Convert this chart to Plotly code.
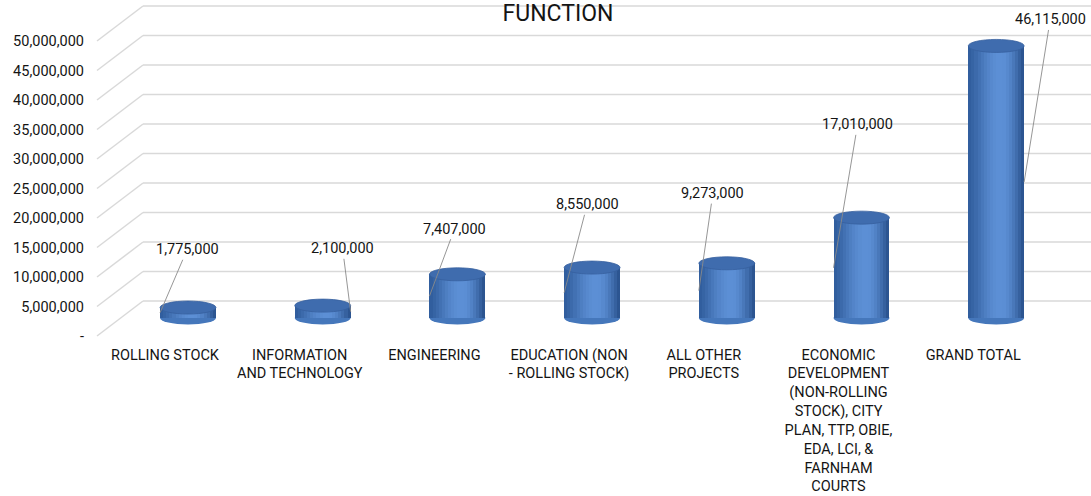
import numpy as np
import plotly.graph_objects as go

# ---- data -------------------------------------------------------------
categories = [
    "ROLLING STOCK",
    "INFORMATION<br>AND TECHNOLOGY",
    "ENGINEERING",
    "EDUCATION (NON<br>- ROLLING STOCK)",
    "ALL OTHER<br>PROJECTS",
    "ECONOMIC<br>DEVELOPMENT<br>(NON-ROLLING<br>STOCK), CITY<br>PLAN, TTP, OBIE,<br>EDA, LCI, &amp;<br>FARNHAM<br>COURTS",
    "GRAND TOTAL",
]
values = [1775000, 2100000, 7407000, 8550000, 9273000, 17010000, 46115000]
tick_values = list(range(0, 50_000_001, 5_000_000))
tick_labels = ["-"] + [f"{v:,}" for v in tick_values[1:]]

# ---- label placement (which side of the cylinder the leader touches, text offset in px)
label_side = [-1, 1, -1, -1, -1, -1, 1]
label_offset = [(27, -63), (-8, -63), (25, -67), (23, -88), (14, -97), (24, -143), (26, -162)]

# ---- page geometry -----------------------------------------------------
W_PX, H_PX = 1091, 496
ZERO_PX = 318          # screen row of value 0 on the bar plane
PX_PER_UNIT = 5.9e-6   # pixels per currency unit
FIRST_PX, STEP_PX = 188, 134.7
FRONT_DY, BACK_DY = -18, 17    # depth offsets of label plane / back wall
FRONT_DX, BACK_DX = -23, 23
WALL_LEFT = 143 / W_PX

BAR_W = 0.415
FONT = "Roboto"
TXT = "#141414"

x_pos = np.arange(len(values))
fig = go.Figure()

# cylinder body: narrow vertical strips with a cylindrical shading profile
edge_l = np.array([48, 93, 156])
peak = np.array([93, 144, 214])
edge_r = np.array([40, 80, 139])
N_STRIPS = 18
for k in range(N_STRIPS):
    t = (k + 0.5) / N_STRIPS
    if t < 0.58:
        w = np.sin(t / 0.58 * np.pi / 2) ** 1.3
        c = edge_l + (peak - edge_l) * w
    else:
        w = np.sin((1 - t) / 0.42 * np.pi / 2) ** 1.1
        c = edge_r + (peak - edge_r) * w
    sw = BAR_W / N_STRIPS
    fig.add_bar(
        x=x_pos, y=values,
        width=sw * (1.25 if k < N_STRIPS - 1 else 1.0),
        offset=-BAR_W / 2 + k * sw,
        marker=dict(color="rgb(%d,%d,%d)" % tuple(c.astype(int)), line=dict(width=0)),
        hoverinfo="skip", showlegend=False,
    )

shapes = []
# back wall gridlines with the receding floor diagonals on the left
for v in tick_values:
    shapes.append(dict(
        type="line", xref="paper", x0=WALL_LEFT, x1=1,
        yref="y", ysizemode="pixel", yanchor=v, y0=BACK_DY, y1=BACK_DY,
        line=dict(color="#d9d9d9", width=1.5), layer="below"))
    shapes.append(dict(
        type="line", xref="paper", xsizemode="pixel", xanchor=WALL_LEFT,
        x0=FRONT_DX - BACK_DX, x1=0,
        yref="y", ysizemode="pixel", yanchor=v, y0=FRONT_DY, y1=BACK_DY,
        line=dict(color="#d9d9d9", width=1.5), layer="below"))

# bottom and top caps of every cylinder
for i, v in enumerate(values):
    shapes.append(dict(
        type="circle", xref="x", x0=i - BAR_W / 2, x1=i + BAR_W / 2,
        yref="y", ysizemode="pixel", yanchor=0, y0=-6.5, y1=6.5,
        fillcolor="#4577bb", line=dict(width=0), layer="below"))
    shapes.append(dict(
        type="circle", xref="x", x0=i - BAR_W / 2, x1=i + BAR_W / 2,
        yref="y", ysizemode="pixel", yanchor=v, y0=-6.5, y1=6.5,
        fillcolor="#3f6cae", line=dict(color="#36609e", width=0.8), layer="above"))

# value labels with leader lines touching the cylinder side at half height
annotations = []
for i, v in enumerate(values):
    dx, dy = label_offset[i]
    annotations.append(dict(
        x=i + label_side[i] * BAR_W / 2, y=v / 2, xref="x", yref="y",
        text=f"{v:,}", showarrow=True, arrowhead=0, arrowwidth=0.9,
        arrowcolor="#8a8a8a", standoff=0, ax=dx, ay=dy,
        font=dict(family=FONT, size=14.5, color=TXT)))

x_range = [-FIRST_PX / STEP_PX, (W_PX - FIRST_PX) / STEP_PX]
y_range = [-(H_PX - ZERO_PX) / PX_PER_UNIT, ZERO_PX / PX_PER_UNIT]

fig.update_layout(
    width=W_PX, height=H_PX,
    margin=dict(l=0, r=0, t=0, b=0),
    paper_bgcolor="white", plot_bgcolor="white",
    barmode="overlay", bargap=0,
    shapes=shapes, annotations=annotations,
    title=dict(text="FUNCTION", x=558 / W_PX, xanchor="center",
               y=1 - 13 / H_PX, yanchor="middle",
               font=dict(family=FONT, size=23, color=TXT)),
    xaxis=dict(domain=[0, 1], range=x_range, anchor="free",
               position=(H_PX - 344) / H_PX,
               tickmode="array", tickvals=list(x_pos), ticktext=categories,
               ticks="", showgrid=False, zeroline=False, showline=False,
               tickangle=0, ticklabelshift=FRONT_DX,
               tickfont=dict(family=FONT, size=14.5, color=TXT)),
    yaxis=dict(domain=[0, 1], range=y_range, anchor="free",
               position=84 / W_PX,
               tickmode="array", tickvals=tick_values, ticktext=tick_labels,
               ticks="", showgrid=False, zeroline=False, showline=False,
               ticklabelshift=-FRONT_DY,
               tickfont=dict(family=FONT, size=14.5, color=TXT)),
)

fig.write_html("out.html")
